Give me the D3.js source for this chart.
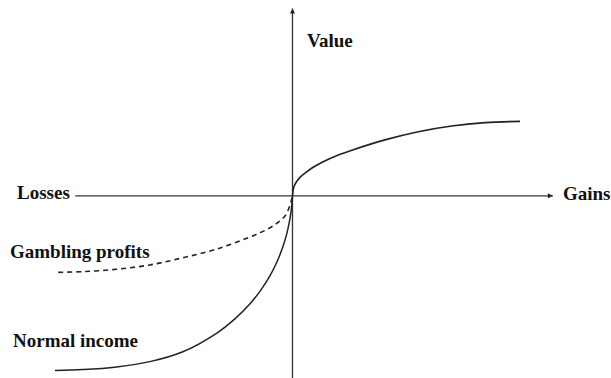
<!DOCTYPE html>
<html>
<head>
<meta charset="utf-8">
<script src="https://cdn.jsdelivr.net/npm/d3@7"></script>
<style>
    html, body { margin: 0; padding: 0; background: #fff; }
    text { font-family: "Liberation Serif", "Times New Roman", serif; font-weight: bold; fill: #111; }
</style>
</head>
<body>
<div id="Area"></div>
<script>
// ---------------------------------- Data ----------------------------------
// gains side of the value function (x = gain, y = value)
var gainX = [0, 0.06, 0.17, 0.31, 0.59, 0.86, 1.28, 1.91, 2.47, 3.85, 5.24, 6.63, 8.02, 9.48];
var gainY = [0, 0.38, 0.59, 0.77, 1.0, 1.19, 1.42, 1.7, 1.9, 2.33, 2.67, 2.91, 3.05, 3.1];

// losses side, normal income (solid)
var normalX = [-9.9, -8.72, -7.33, -5.94, -4.57, -3.15, -2.4, -1.78, -1.32, -0.94, -0.65, -0.42, -0.25, -0.13, -0.05, 0];
var normalY = [-7.28, -7.24, -7.13, -6.91, -6.5, -5.72, -5.13, -4.51, -3.93, -3.34, -2.76, -2.18, -1.63, -1.09, -0.59, 0];

// losses side, gambling profits (dashed)
var gambleX = [-9.76, -8.72, -7.33, -5.94, -4.56, -3.16, -1.78, -1.1, -0.66, -0.3, -0.08, 0];
var gambleY = [-3.19, -3.16, -3.06, -2.88, -2.58, -2.22, -1.72, -1.42, -1.15, -0.82, -0.31, 0];

// axis extents and labels
var xAxisExtent = [-9.05, 10.85];
var yAxisExtent = [-7.6, 7.8];
var labels = ["Value", "Losses", "Gains", "Gambling profits", "Normal income"];

// ---------------------------------- Chart ----------------------------------
var width = 611, height = 378;

var svg = d3.select("#Area")
    .append("svg")
    .attr("width", width)
    .attr("height", height);

var x = d3.scaleLinear().domain([-10, 10]).range([52.5, 532.5]);
var y = d3.scaleLinear().domain([-8, 8]).range([387.8, 3.8]);

// arrow marker
svg.append("defs").append("marker")
    .attr("id", "arrow")
    .attr("viewBox", "0 0 10 10")
    .attr("refX", 10)
    .attr("refY", 5)
    .attr("markerWidth", 7)
    .attr("markerHeight", 5)
    .attr("markerUnits", "userSpaceOnUse")
    .attr("orient", "auto")
    .append("path")
    .attr("d", "M0,0L10,5L0,10z")
    .attr("fill", "#222");

// horizontal axis
svg.append("line")
    .attr("x1", x(xAxisExtent[0]))
    .attr("x2", x(xAxisExtent[1]))
    .attr("y1", y(0))
    .attr("y2", y(0))
    .attr("stroke", "#333")
    .attr("stroke-width", 1.3)
    .attr("marker-end", "url(#arrow)");

// vertical axis (drawn bottom to top so the arrow sits on top)
svg.append("line")
    .attr("x1", x(0))
    .attr("x2", x(0))
    .attr("y1", y(yAxisExtent[0]))
    .attr("y2", y(yAxisExtent[1]))
    .attr("stroke", "#333")
    .attr("stroke-width", 1.3)
    .attr("marker-end", "url(#arrow)");

var line = d3.line()
    .x(function (d) { return x(d[0]); })
    .y(function (d) { return y(d[1]); })
    .curve(d3.curveCatmullRom.alpha(0.5));

function zip(a, b) {
    return a.map(function (v, i) { return [v, b[i]]; });
}

svg.append("path")
    .attr("d", line(zip(gainX, gainY)))
    .attr("fill", "none")
    .attr("stroke", "#222")
    .attr("stroke-width", 1.6);

svg.append("path")
    .attr("d", line(zip(normalX, normalY)))
    .attr("fill", "none")
    .attr("stroke", "#222")
    .attr("stroke-width", 1.5);

svg.append("path")
    .attr("d", line(zip(gambleX, gambleY)))
    .attr("fill", "none")
    .attr("stroke", "#222")
    .attr("stroke-width", 1.6)
    .attr("stroke-dasharray", "5,4");

// labels
var labelPos = [
    { x: 307, y: 47, anchor: "start" },
    { x: 17, y: 199, anchor: "start" },
    { x: 563, y: 200, anchor: "start" },
    { x: 10, y: 258, anchor: "start" },
    { x: 13, y: 347, anchor: "start" }
];

svg.selectAll("text.lbl")
    .data(labels)
    .enter()
    .append("text")
    .attr("class", "lbl")
    .attr("x", function (d, i) { return labelPos[i].x; })
    .attr("y", function (d, i) { return labelPos[i].y; })
    .attr("text-anchor", function (d, i) { return labelPos[i].anchor; })
    .style("font-size", "19px")
    .text(function (d) { return d; });
</script>
</body>
</html>
